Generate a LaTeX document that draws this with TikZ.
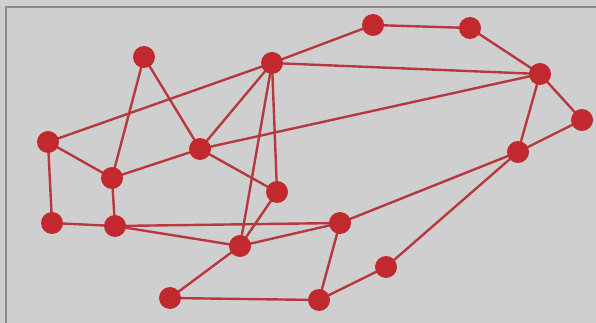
\documentclass[tikz,border=0pt]{standalone}
\pgfdeclarelayer{bglayer}
\pgfdeclarelayer{edgelayer}
\pgfsetlayers{bglayer,edgelayer,main}
\begin{document}
\begin{tikzpicture}[x=1pt,y=-1pt,
  vtx/.style={circle,fill=nodered,inner sep=0pt,minimum size=22pt},
  edge/.style={draw=edgered,line width=2.4pt}]
\definecolor{bg}{HTML}{D0CFD0}
\definecolor{nodered}{HTML}{C1292E}
\definecolor{edgered}{HTML}{B8383F}
\definecolor{framegrey}{HTML}{8A8A8A}
\useasboundingbox (0,0) rectangle (596,323);
\node[vtx] (A) at (144,57) {};
\node[vtx] (B) at (272,63) {};
\node[vtx] (C) at (373,25) {};
\node[vtx] (D) at (470,28) {};
\node[vtx] (E) at (540,74) {};
\node[vtx] (F) at (582,120) {};
\node[vtx] (G) at (518,152) {};
\node[vtx] (H) at (48,142) {};
\node[vtx] (I) at (200,149) {};
\node[vtx] (J) at (112,178) {};
\node[vtx] (K) at (277,192) {};
\node[vtx] (L) at (52,223) {};
\node[vtx] (M) at (115,226) {};
\node[vtx] (N) at (340,223) {};
\node[vtx] (O) at (240,246) {};
\node[vtx] (P) at (386,267) {};
\node[vtx] (Q) at (170,298) {};
\node[vtx] (R) at (319,300) {};
\begin{pgfonlayer}{bglayer}
  \fill[bg] (0,0) rectangle (596,323);
  \draw[framegrey,line width=1.3pt] (6,323) -- (6,7) -- (596,7);
\end{pgfonlayer}
\begin{pgfonlayer}{edgelayer}
\foreach \a/\b in {A/I,A/J,B/H,B/C,C/D,D/E,B/E,B/I,B/O,B/K,E/I,E/F,E/G,F/G,G/N,G/P,H/J,H/L,J/I,J/M,L/M,M/N,M/O,I/K,K/O,O/N,O/Q,Q/R,N/R,R/P}
  \path[edge] (\a.center) -- (\b.center);
\end{pgfonlayer}
\end{tikzpicture}
\end{document}
